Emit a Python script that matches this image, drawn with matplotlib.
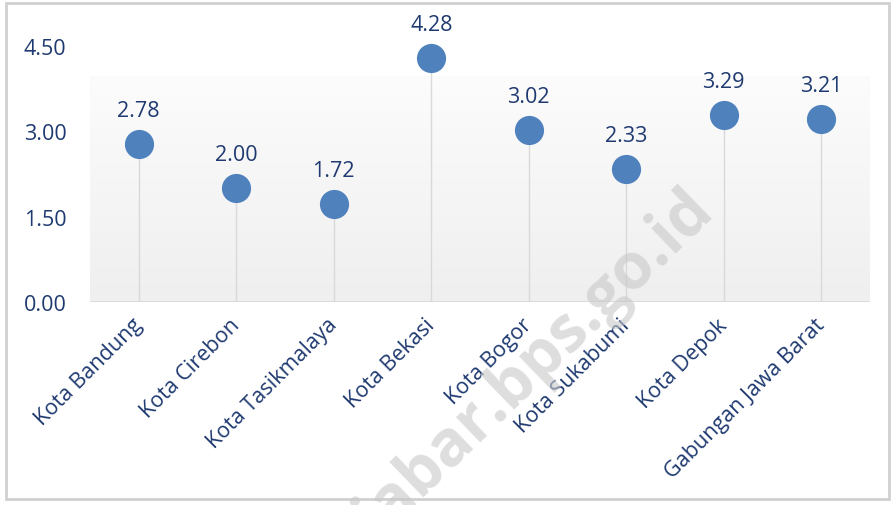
import numpy as np
import matplotlib.pyplot as plt
from matplotlib.patches import Rectangle
from matplotlib.colors import LinearSegmentedColormap

# data
kota = ["Kota Bandung", "Kota Cirebon", "Kota Tasikmalaya", "Kota Bekasi",
        "Kota Bogor", "Kota Sukabumi", "Kota Depok", "Gabungan Jawa Barat"]
nilai = [2.78, 2.00, 1.72, 4.28, 3.02, 2.33, 3.29, 3.21]
yticks = [0.0, 1.5, 3.0, 4.5]

navy = "#1f3a70"
biru = "#4f81bd"
abu = "#d9d9d9"

plt.rcParams["font.family"] = ["Open Sans", "DejaVu Sans"]

fig = plt.figure(figsize=(8.95, 5.06), dpi=100)
ax = fig.add_axes([0.1006, 0.401, 0.8715, 0.507])

x = np.arange(len(kota))

# latar gradasi
grad = np.linspace(0, 1, 256).reshape(-1, 1)
cmap = LinearSegmentedColormap.from_list("bg", ["#efefef", "#fcfcfc"])
ax.imshow(grad, cmap=cmap, aspect="auto", origin="lower",
          extent=(-0.5, len(kota) - 0.5, 0, 3.95), zorder=0)

# batang dan titik
ax.vlines(x, 0, nilai, color=abu, lw=1, zorder=1)
ax.plot(x, nilai, "o", color=biru, markersize=21, markeredgewidth=0, zorder=3,
        clip_on=False)

for xi, v in zip(x, nilai):
    ax.annotate(f"{v:.2f}", (xi, v), xytext=(0, 20), textcoords="offset points",
                ha="center", va="baseline", fontsize=15.5, color=navy,
                annotation_clip=False)

ax.axhline(0, color=abu, lw=2, zorder=2)

ax.set_xlim(-0.5, len(kota) - 0.5)
ax.set_ylim(0, 4.5)
ax.set_yticks(yticks)
ax.set_yticklabels([f"{t:.2f}" for t in yticks], fontsize=15.5, color=navy)
ax.set_xticks(x)
ax.set_xticklabels(kota, rotation=45, ha="right", va="center",
                   rotation_mode="anchor", fontsize=15.5, color=navy)
ax.tick_params(axis="both", length=0)
ax.tick_params(axis="y", pad=17)
ax.tick_params(axis="x", pad=14)
for s in ax.spines.values():
    s.set_visible(False)
ax.set_facecolor("white")

# watermark
fig.text(0.600, 0.272, "jabar.bps.go.id", fontsize=46, fontweight="bold",
         color="#c8c8c8", alpha=0.6, rotation=44, ha="center", va="center",
         zorder=10)

# bingkai
fig.patches.append(Rectangle((0.007, 0.012), 0.986, 0.98, transform=fig.transFigure,
                             fill=False, edgecolor="#d0d0d0", lw=2))

fig.savefig("out.png", dpi=100)
